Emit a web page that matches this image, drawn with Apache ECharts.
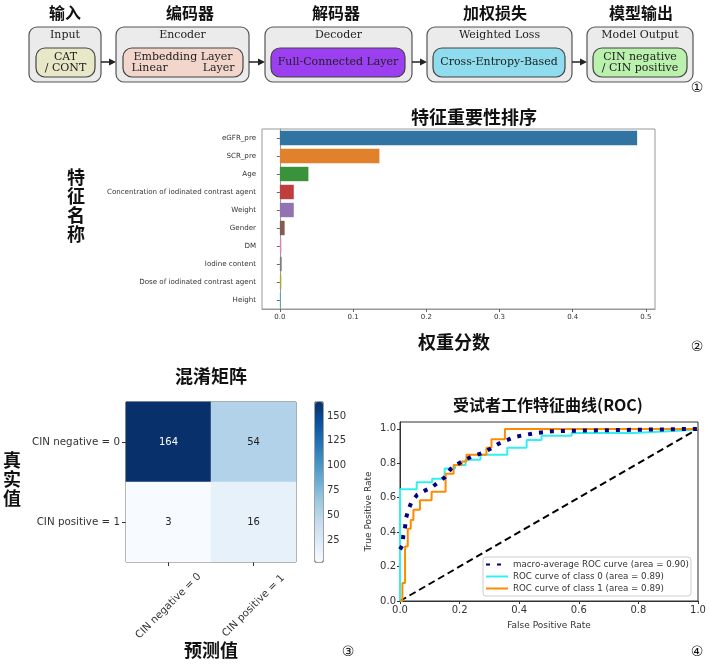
<!DOCTYPE html>
<html><head><meta charset="utf-8">
<script src="https://cdn.jsdelivr.net/npm/echarts@6/dist/echarts.min.js"></script>
<style>html,body{margin:0;padding:0;background:#fff}#c{width:709px;height:664px}</style>
</head><body><div id="c"></div>
<script>
// ---------- data ----------
const flowTitles = ['输入', '编码器', '解码器', '加权损失', '模型输出'];
const flowStages = ['Input', 'Encoder', 'Decoder', 'Weighted Loss', 'Model Output'];
const flowInner = ['CAT\n/ CONT', 'Embedding Layer\nLinear          Layer', 'Full-Connected Layer', 'Cross-Entropy-Based', 'CIN negative\n/ CIN positive'];

const featureNames = ['eGFR_pre', 'SCR_pre', 'Age', 'Concentration of iodinated contrast agent', 'Weight', 'Gender', 'DM', 'Iodine content', 'Dose of iodinated contrast agent', 'Height'];
const featureScores = [0.488, 0.136, 0.039, 0.019, 0.019, 0.0065, 0.002, 0.0025, 0.002, 0.001];
const scoreTicks = [0, 0.1, 0.2, 0.3, 0.4, 0.5];

const cmClasses = ['CIN negative = 0', 'CIN positive = 1'];
const cmRowNeg = [164, 54];   // true CIN negative: predicted 0, predicted 1
const cmRowPos = [3, 16];     // true CIN positive: predicted 0, predicted 1
const colorbarTicks = [25, 50, 75, 100, 125, 150];

const rocTicks = [0, 0.2, 0.4, 0.6, 0.8, 1.0];
const macroFpr = [0, 0.009, 0.011, 0.017, 0.02, 0.028, 0.039, 0.058, 0.082, 0.106, 0.128, 0.151, 0.17, 0.196, 0.218, 0.242, 0.277, 0.302, 0.33, 0.357, 0.385, 0.419, 0.453, 0.48, 0.51, 0.6, 0.8, 1.0];
const macroTpr = [0.3, 0.326, 0.379, 0.43, 0.48, 0.53, 0.577, 0.617, 0.64, 0.66, 0.689, 0.72, 0.767, 0.798, 0.82, 0.84, 0.86, 0.883, 0.913, 0.934, 0.953, 0.965, 0.975, 0.98, 0.986, 0.99, 0.995, 1.0];
const class0Fpr = [0, 0, 0.056, 0.056, 0.108, 0.108, 0.15, 0.15, 0.185, 0.185, 0.22, 0.22, 0.27, 0.27, 0.36, 0.36, 0.425, 0.425, 0.475, 0.475, 0.576, 0.576, 0.785, 0.785, 0.95, 1.0];
const class0Tpr = [0, 0.65, 0.65, 0.69, 0.69, 0.71, 0.71, 0.77, 0.77, 0.79, 0.79, 0.82, 0.82, 0.85, 0.85, 0.89, 0.89, 0.935, 0.935, 0.96, 0.96, 0.976, 0.976, 0.985, 0.99, 1.0];
const class1Fpr = [0, 0.008, 0.008, 0.017, 0.017, 0.026, 0.026, 0.036, 0.036, 0.045, 0.045, 0.067, 0.067, 0.106, 0.106, 0.153, 0.153, 0.18, 0.18, 0.207, 0.207, 0.223, 0.223, 0.29, 0.29, 0.307, 0.307, 0.352, 0.352, 1.0];
const class1Tpr = [0, 0, 0.105, 0.105, 0.316, 0.316, 0.42, 0.42, 0.47, 0.47, 0.53, 0.53, 0.585, 0.585, 0.635, 0.635, 0.74, 0.74, 0.79, 0.79, 0.81, 0.81, 0.85, 0.85, 0.89, 0.89, 0.94, 0.94, 1.0, 1.0];
const chanceFpr = [0, 1];
const chanceTpr = [0, 1];
const rocNames = ['macro-average ROC curve (area = 0.90)', 'ROC curve of class 0 (area = 0.89)', 'ROC curve of class 1 (area = 0.89)'];

// ---------- styles / layout ----------
const barColors = ['#3274a1', '#e1812c', '#3a923a', '#c03d3e', '#9372b2', '#845b53', '#d684bd', '#7f7f7f', '#a9aa35', '#2eb1c2'];
const blues = ['#f7fbff', '#deebf7', '#c6dbef', '#9ecae1', '#6baed6', '#4292c6', '#2171b5', '#08519c', '#08306b'];
const flowOuterBox = [[29, 72], [116, 133], [265, 147], [427, 145], [587, 106]];
const flowInnerBox = [[36, 59], [123, 120], [271, 134], [433, 132], [593, 94]];
const flowFill = ['#e8e8c8', '#f2d6cb', '#9b3ff0', '#8edcee', '#b9f1ad'];
const flowTitleX = [65, 190, 336, 495, 641];
const CJK = '"Noto Sans CJK SC", sans-serif';
const SANS = '"DejaVu Sans", sans-serif';
const SERIF = '"DejaVu Serif", serif';

const zip = (a, b) => a.map((v, i) => [v, b[i]]);

const graphic = [];
flowOuterBox.forEach((b, i) => {
  graphic.push({ type: 'rect', shape: { x: b[0], y: 27, width: b[1], height: 55, r: 8 },
    style: { fill: '#ebebeb', stroke: '#555', lineWidth: 1.2 } });
  graphic.push({ type: 'text', x: b[0] + b[1] / 2, y: 35, style: { text: flowStages[i], fill: '#222',
    font: '11px ' + SERIF, align: 'center', verticalAlign: 'middle' } });
  const ib = flowInnerBox[i];
  graphic.push({ type: 'rect', shape: { x: ib[0], y: 48, width: ib[1], height: 29, r: 9 },
    style: { fill: flowFill[i], stroke: '#444', lineWidth: 1.2 } });
  graphic.push({ type: 'text', x: ib[0] + ib[1] / 2, y: 62.5, style: { text: flowInner[i], fill: '#222',
    font: '11px ' + SERIF, align: 'center', verticalAlign: 'middle', lineHeight: 11 } });
  graphic.push({ type: 'text', x: flowTitleX[i], y: 13, style: { text: flowTitles[i], fill: '#111',
    font: 'bold 16px ' + CJK, align: 'center', verticalAlign: 'middle' } });
  if (i < flowOuterBox.length - 1) {
    const x1 = b[0] + b[1], x2 = flowOuterBox[i + 1][0];
    graphic.push({ type: 'line', shape: { x1: x1, y1: 62, x2: x2 - 6, y2: 62 }, style: { stroke: '#222', lineWidth: 1.5 } });
    graphic.push({ type: 'polygon', shape: { points: [[x2 - 7, 58.5], [x2, 62], [x2 - 7, 65.5]] }, style: { fill: '#222' } });
  }
});
const addText = (t, x, y, size, extra) => graphic.push({ type: 'text', x: x, y: y,
  style: Object.assign({ text: t, fill: '#111', font: 'bold ' + size + 'px ' + CJK, align: 'center', verticalAlign: 'middle' }, extra || {}) });
addText('特征重要性排序', 474, 117, 18);
addText('权重分数', 454, 342, 18);
addText('特\n征\n名\n称', 76, 206, 18, { lineHeight: 19 });
addText('混淆矩阵', 211, 376, 18);
addText('真\n实\n值', 12, 479, 18, { lineHeight: 19 });
addText('预测值', 211, 650, 18);
addText('受试者工作特征曲线(ROC)', 548, 405, 16);
[['①', 697, 88], ['②', 697, 347], ['③', 348, 652], ['④', 697, 652]].forEach(c =>
  graphic.push({ type: 'text', x: c[1], y: c[2], style: { text: c[0], fill: '#111', font: '14px ' + SANS, align: 'center', verticalAlign: 'middle' } }));

const heatData = [];
[cmRowNeg, cmRowPos].forEach((row, yi) => row.forEach((v, xi) => heatData.push({
  value: [xi, yi, v], label: { color: v > 100 ? '#fff' : '#222' } })));

const tickLbl = (size) => ({ color: '#333', fontSize: size, fontFamily: SANS });

const option = {
  animation: false,
  backgroundColor: '#fff',
  graphic: graphic,
  grid: [
    { left: 262, top: 129, width: 393, height: 180, show: true, borderColor: '#999', borderWidth: 1 },
    { left: 126, top: 402, width: 170, height: 160, show: true, borderColor: '#444', borderWidth: 1 },
    { left: 315, top: 402, width: 8, height: 160, show: true, borderColor: '#444', borderWidth: 1, backgroundColor: 'transparent' },
    { left: 400, top: 422, width: 298, height: 179, show: true, borderColor: '#333', borderWidth: 1 }
  ],
  xAxis: [
    { gridIndex: 0, type: 'value', min: -0.0244, max: 0.5124,
      axisLine: { show: true, lineStyle: { color: '#999' } },
      axisTick: { show: true, length: 3, customValues: scoreTicks, lineStyle: { color: '#666' } },
      axisLabel: { customValues: scoreTicks, formatter: v => v.toFixed(1), margin: 5, ...tickLbl(7) },
      splitLine: { show: false } },
    { gridIndex: 1, type: 'category', data: cmClasses, position: 'bottom',
      axisLine: { show: false }, axisTick: { show: true, alignWithLabel: true, length: 4, lineStyle: { color: '#333' } },
      axisLabel: { rotate: 45, align: 'center', verticalAlign: 'middle', margin: 44, ...tickLbl(10.3) },
      splitLine: { show: false } },
    { gridIndex: 2, type: 'value', show: false, min: 0, max: 1 },
    { gridIndex: 3, type: 'value', min: 0, max: 1,
      name: 'False Positive Rate', nameLocation: 'middle', nameGap: 20, nameTextStyle: { color: '#333', fontSize: 9, fontFamily: SANS },
      axisLine: { show: true, lineStyle: { color: '#333' } },
      axisTick: { show: true, length: 3, customValues: rocTicks, lineStyle: { color: '#333' } },
      axisLabel: { customValues: rocTicks, formatter: v => v.toFixed(1), margin: 4, ...tickLbl(10) },
      splitLine: { show: false } }
  ],
  yAxis: [
    { gridIndex: 0, type: 'category', data: featureNames, inverse: true,
      axisLine: { show: true, lineStyle: { color: '#999' } },
      axisTick: { show: true, alignWithLabel: true, length: 3, lineStyle: { color: '#666' } },
      axisLabel: { margin: 6, ...tickLbl(7.1) } },
    { gridIndex: 1, type: 'category', data: cmClasses, inverse: true,
      axisLine: { show: false }, axisTick: { show: true, alignWithLabel: true, length: 4, lineStyle: { color: '#333' } },
      axisLabel: { margin: 6, ...tickLbl(10.3) } },
    { gridIndex: 2, type: 'value', min: 3, max: 164, position: 'right',
      axisLine: { show: false },
      axisTick: { show: true, length: 4, customValues: colorbarTicks, lineStyle: { color: '#333' } },
      axisLabel: { customValues: colorbarTicks, margin: 4, ...tickLbl(10) },
      splitLine: { show: false } },
    { gridIndex: 3, type: 'value', min: 0, max: 1.04,
      name: 'True Positive Rate', nameLocation: 'middle', nameGap: 27, nameTextStyle: { color: '#333', fontSize: 9, fontFamily: SANS },
      axisLine: { show: true, lineStyle: { color: '#333' } },
      axisTick: { show: true, length: 3, customValues: rocTicks, lineStyle: { color: '#333' } },
      axisLabel: { customValues: rocTicks, formatter: v => v.toFixed(1), margin: 4, ...tickLbl(10) },
      splitLine: { show: false } }
  ],
  visualMap: {
    type: 'continuous', min: 3, max: 164, seriesIndex: 1, show: true, calculable: false,
    left: 315, top: 402, itemWidth: 8, itemHeight: 160, padding: 0, text: null,
    inRange: { color: blues }, textStyle: { fontSize: 0 }, hoverLink: false
  },
  legend: {
    data: rocNames, orient: 'vertical', left: 483, top: 557, padding: [3, 2, 3, 2], itemGap: 3,
    itemWidth: 22, itemHeight: 9, borderColor: '#ccc', borderWidth: 1, borderRadius: 3,
    itemStyle: { opacity: 0 },
    backgroundColor: '#fff', textStyle: { color: '#333', fontSize: 8.7, fontFamily: SANS }
  },
  series: [
    { type: 'bar', xAxisIndex: 0, yAxisIndex: 0, barCategoryGap: '20%',
      data: featureScores.map((v, i) => ({ value: v, itemStyle: { color: barColors[i] } })) },
    { type: 'heatmap', xAxisIndex: 1, yAxisIndex: 1, data: heatData,
      label: { show: true, fontSize: 10, fontFamily: SANS } },
    { type: 'line', name: 'chance', xAxisIndex: 3, yAxisIndex: 3, data: zip(chanceFpr, chanceTpr),
      symbol: 'none', lineStyle: { color: '#000', width: 2, type: [7, 4] }, z: 2 },
    { type: 'line', name: rocNames[1], xAxisIndex: 3, yAxisIndex: 3, data: zip(class0Fpr, class0Tpr),
      symbol: 'none', color: '#33f0f0', lineStyle: { color: '#33f0f0', width: 2 }, z: 3 },
    { type: 'line', name: rocNames[2], xAxisIndex: 3, yAxisIndex: 3, data: zip(class1Fpr, class1Tpr),
      symbol: 'none', color: '#ff8c00', lineStyle: { color: '#ff8c00', width: 2 }, z: 4 },
    { type: 'line', name: rocNames[0], xAxisIndex: 3, yAxisIndex: 3, data: zip(macroFpr, macroTpr),
      symbol: 'none', color: '#000080', lineStyle: { color: '#000080', width: 4, type: [4, 7] }, z: 5 }
  ]
};
const chart = echarts.init(document.getElementById('c'), null, { renderer: 'canvas' });
chart.setOption(option);
</script></body></html>
